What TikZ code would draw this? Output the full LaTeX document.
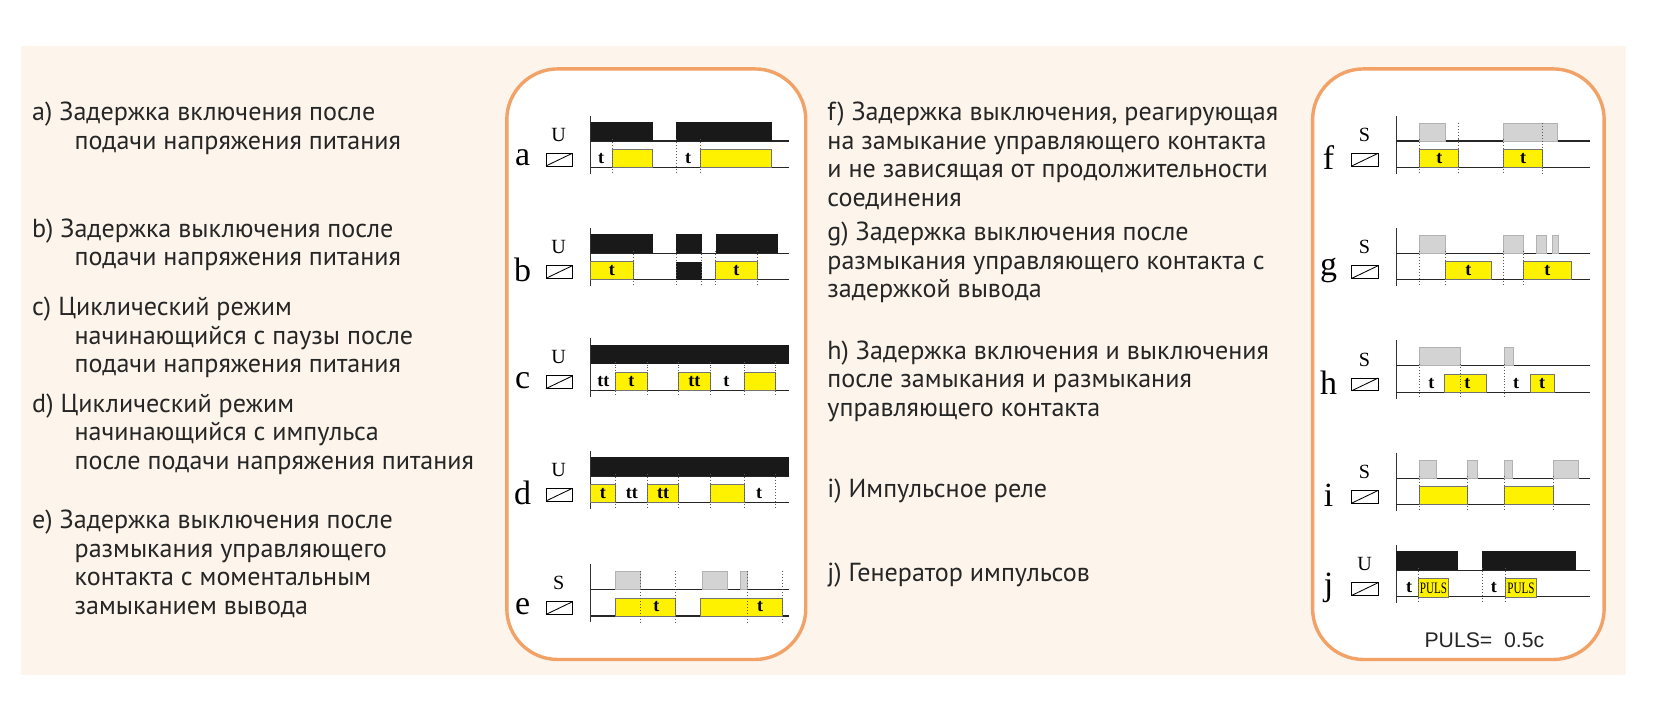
\documentclass[tikz,border=0pt]{standalone}
\usepackage{fontspec}
\setmainfont{PT Sans}
\newfontfamily\serif{Liberation Serif}
\newfontfamily\arialf{Liberation Sans}
\definecolor{cream}{HTML}{FDF5EC}
\definecolor{orng}{HTML}{F2A266}
\definecolor{yel}{HTML}{FFF200}
\definecolor{gbar}{HTML}{D3D3D3}
\tikzset{
 desc/.style={anchor=north west,align=left,font=\fontsize{12.3}{13.4}\selectfont,text=black!85,inner sep=0},
 tl/.style={font=\serif\bfseries\fontsize{8.5}{9}\selectfont,inner sep=0},
 lt/.style={font=\serif\fontsize{16}{16}\selectfont,inner sep=0},
 sm/.style={font=\serif\fontsize{9.5}{10}\selectfont,inner sep=0},
 panel/.style={draw=orng,line width=1.6pt,fill=white,rounded corners=24pt},
 dl/.style={densely dotted,black!65,line width=0.4pt},
}
\newcommand\Ubar[2]{\fill[black!90] (#1,-18) rectangle (#2,0);}
\newcommand\Lbar[2]{\fill[black!90] (#1,8) rectangle (#2,25);}
\newcommand\Gbar[2]{\filldraw[fill=gbar,draw=gray!60,line width=0.3pt] (#1,-17) rectangle (#2,0);}
\newcommand\Ybox[3]{\filldraw[fill=yel,draw=black!55,line width=0.4pt] (#1,8) rectangle (#2,25); \node[tl] at ({(#1+#2)/2},16.5) {#3};}
\newcommand\Tx[2]{\node[tl] at (#1,16.5){#2};}
\newcommand\Dl[1]{\draw[dl] (#1,-2) -- (#1,31);}
\newcommand\Frame[3]{%
 \draw[black!80,line width=0.4pt] (0,-24) -- (0,31);
 \draw[black!85,line width=0.5pt] (0,0)--(#3,0);
 \draw[black!85,line width=0.5pt] (0,25)--(#3,25);
 \node[lt] at (-64,16){#1};
 \node[sm] at (-30,-6){#2};
 \draw[line width=0.4pt] (-42,11.5) rectangle (-17,23.5);
 \draw[line width=0.4pt] (-42,23.5)--(-17,11.5);}
\begin{document}
\begin{tikzpicture}[x=0.5pt,y=-0.5pt]
\useasboundingbox (0,0) rectangle (1560,669);
\fill[white] (0,0) rectangle (1560,669);
\fill[cream] (20,43) rectangle (1534,637);
\draw[panel] (478,65) rectangle (760,622);
\draw[panel] (1238,65) rectangle (1513,622);
% left texts
\node[desc] (ta) at (30,96) {a) Задержка включения после\\\hspace{20pt}подачи напряжения питания};
\node[desc] (tb) at (30,206) {b) Задержка выключения после\\\hspace{20pt}подачи напряжения питания};
\node[desc] (tc) at (30,280) {c) Циклический режим\\\hspace{20pt}начинающийся с паузы после\\\hspace{20pt}подачи напряжения питания};
\node[desc] (td) at (30,371) {d) Циклический режим\\\hspace{20pt}начинающийся с импульса\\\hspace{20pt}после подачи напряжения питания};
\node[desc] (te) at (30,481) {e) Задержка выключения после\\\hspace{20pt}размыкания управляющего\\\hspace{20pt}контакта с моментальным\\\hspace{20pt}замыканием вывода};
% right texts
\node[desc] (tf) at (780,96) {f) Задержка выключения, реагирующая\\на замыкание управляющего контакта\\и не зависящая от продолжительности\\соединения};
\node[desc] (tg) at (780,209) {g) Задержка выключения после\\размыкания управляющего контакта с\\задержкой вывода};
\node[desc] (th) at (780,321) {h) Задержка включения и выключения\\после замыкания и размыкания\\управляющего контакта};
\node[desc] (ti) at (780,451) {i) Импульсное реле};
\node[desc] (tj) at (780,531) {j) Генератор импульсов};
% a
\begin{scope}[shift={(557,133)}]
\Frame{a}{U}{187}
\Ubar{0}{59}\Ubar{81}{171}
\Tx{10}{t}\Ybox{21}{58}{}\Tx{92}{t}\Ybox{104}{171}{}
\Dl{21}\Dl{81}\Dl{104}
\end{scope}
% b
\begin{scope}[shift={(557,239)}]
\Frame{b}{U}{187}
\Ubar{0}{59}\Ubar{81}{105}\Ubar{118}{177}
\Ybox{0}{40}{t}\Lbar{81}{105}\Ybox{118}{157}{t}
\Dl{40}\Dl{81}\Dl{105}\Dl{118}\Dl{157}
\end{scope}
% c
\begin{scope}[shift={(557,343)}]
\Frame{c}{U}{187}
\Ubar{0}{187}
\Tx{12}{tt}\Ybox{23}{54}{t}\Ybox{83}{113}{tt}\Tx{128}{t}\Ybox{145}{174}{}
\Dl{23}\Dl{54}\Dl{83}\Dl{113}\Dl{145}\Dl{174}
\end{scope}
% d
\begin{scope}[shift={(557,449)}]
\Frame{d}{U}{187}
\Ubar{0}{187}
\Ybox{0}{23}{t}\Tx{39}{tt}\Ybox{54}{83}{tt}\Ybox{113}{145}{}\Tx{159}{t}
\Dl{23}\Dl{54}\Dl{83}\Dl{113}\Dl{145}\Dl{174}
\end{scope}
% e
\begin{scope}[shift={(557,556)}]
\Frame{e}{S}{187}
\Gbar{23}{47}\Gbar{105}{129}\Gbar{141}{148}
\Ybox{23}{80}{}\Tx{62}{t}\Ybox{104}{181}{}\Tx{160}{t}
\draw[dl] (47,-17)--(47,31);\draw[dl] (80,-17)--(80,31);\draw[dl] (148,-17)--(148,31);\draw[dl] (181,-17)--(181,31);
\end{scope}
% f
\begin{scope}[shift={(1317,133)}]
\Frame{f}{S}{183}
\Gbar{22}{46}\Gbar{101}{152}
\Ybox{22}{59}{t}\Ybox{101}{138}{t}
\Dl{22}\Dl{59}\draw[dl] (59,-17)--(59,0);\Dl{101}\draw[dl] (138,-17)--(138,31);
\end{scope}
% g
\begin{scope}[shift={(1317,239)}]
\Frame{g}{S}{183}
\Gbar{22}{46}\Gbar{101}{120}\Gbar{132}{141}\Gbar{147}{153}
\Ybox{46}{90}{t}\Ybox{120}{165}{t}
\Dl{22}\Dl{46}\Dl{101}\Dl{120}
\end{scope}
% h
\begin{scope}[shift={(1317,345)}]
\Frame{h}{S}{183}
\Gbar{22}{60}\Gbar{102}{110}
\Tx{33}{t}\Ybox{45}{85}{}\Tx{67}{t}\Tx{113}{t}\Ybox{126}{149}{t}
\Dl{22}\Dl{60}\Dl{102}
\end{scope}
% i
\begin{scope}[shift={(1317,451)}]
\Frame{i}{S}{183}
\Gbar{22}{38}\Gbar{67}{76}\Gbar{102}{109}\Gbar{148}{172}
\Ybox{22}{67}{}\Ybox{102}{148}{}
\Dl{22}\Dl{67}\Dl{102}\Dl{148}
\end{scope}
% j
\begin{scope}[shift={(1317,538)}]
\Frame{j}{U}{183}
\Ubar{0}{58}\Ubar{81}{169}
\Tx{12}{t}\Tx{92}{t}
\filldraw[fill=yel,draw=black!55,line width=0.4pt] (21,8) rectangle (49,25);
\filldraw[fill=yel,draw=black!55,line width=0.4pt] (103,8) rectangle (132,25);
\node[inner sep=0,font=\serif\fontsize{7.5}{8}\selectfont] at (35,17) {\scalebox{0.7}[1]{PULS}};
\node[inner sep=0,font=\serif\fontsize{7.5}{8}\selectfont] at (117.5,17) {\scalebox{0.7}[1]{PULS}};
\Dl{21}\Dl{81}\Dl{103}
\end{scope}
\node[font=\arialf\fontsize{10}{11}\selectfont,text=black!85] (puls) at (1400,604) {PULS=\ \ 0.5с};
\end{tikzpicture}
\end{document}
